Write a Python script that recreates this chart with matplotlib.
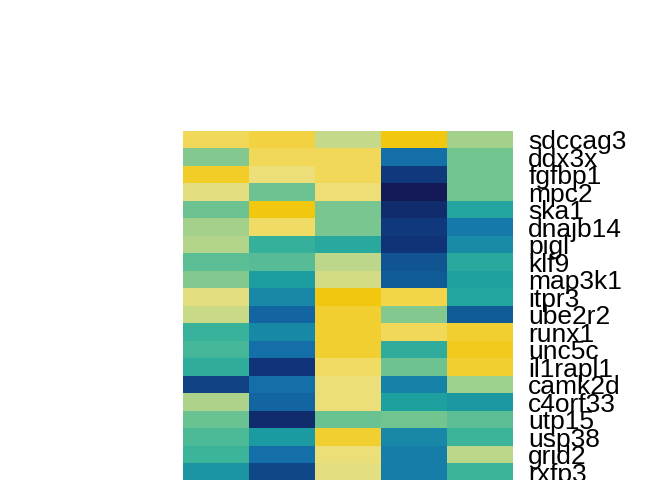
import numpy as np
import matplotlib
matplotlib.use("Agg")
import matplotlib.pyplot as plt
from matplotlib.colors import LinearSegmentedColormap

genes = ["sdccag3", "ddx3x", "fgfbp1", "mpc2", "ska1", "dnajb14", "pigl", "klf9",
         "map3k1", "itpr3", "ube2r2", "runx1", "unc5c", "il1rapl1", "camk2d",
         "c4orf33", "utp15", "usp38", "grid2", "rxfp3"]

col1 = [0.94, 0.72, 0.98, 0.86, 0.69, 0.76, 0.78, 0.66, 0.72, 0.86,
        0.81, 0.59, 0.62, 0.56, 0.14, 0.77, 0.68, 0.63, 0.60, 0.46]
col2 = [0.96, 0.94, 0.88, 0.69, 1.00, 0.92, 0.58, 0.65, 0.49, 0.40,
        0.25, 0.41, 0.30, 0.10, 0.30, 0.25, 0.07, 0.48, 0.30, 0.15]
col3 = [0.80, 0.94, 0.94, 0.89, 0.71, 0.71, 0.54, 0.79, 0.83, 1.00,
        0.97, 0.97, 0.97, 0.92, 0.88, 0.88, 0.68, 0.97, 0.88, 0.86]
col4 = [1.00, 0.30, 0.11, 0.00, 0.07, 0.11, 0.09, 0.19, 0.21, 0.95,
        0.72, 0.94, 0.56, 0.69, 0.38, 0.50, 0.70, 0.40, 0.36, 0.36]
col5 = [0.76, 0.70, 0.70, 0.70, 0.52, 0.34, 0.42, 0.54, 0.51, 0.52,
        0.20, 0.97, 0.985, 0.97, 0.75, 0.47, 0.66, 0.60, 0.79, 0.60]

anchors = [(0.00, "#131A55"), (0.10, "#10357A"), (0.20, "#105A96"),
           (0.30, "#1570AA"), (0.40, "#1887A8"), (0.50, "#1EA0A0"),
           (0.60, "#3BB49A"), (0.70, "#72C591"), (0.80, "#C4D98A"),
           (0.88, "#ECE07C"), (0.94, "#F2D95A"), (1.00, "#F2C70F")]
cmap = LinearSegmentedColormap.from_list("custom", anchors)

data = np.array([col1, col2, col3, col4, col5]).T

fig = plt.figure(figsize=(6.72, 4.8), dpi=100)
ax = fig.add_axes([183/672, -1/480, 330/672, 350/480])
ax.imshow(data, cmap=cmap, vmin=0, vmax=1, aspect="auto", interpolation="nearest")
for s in ax.spines.values():
    s.set_visible(False)
ax.set_xticks([])
ax.yaxis.tick_right()
ax.set_yticks(range(len(genes)))
ax.set_yticklabels(genes, fontsize=19, family="Liberation Sans")
ax.tick_params(axis="y", length=0, pad=11)
fig.savefig("out.png", dpi=100)
